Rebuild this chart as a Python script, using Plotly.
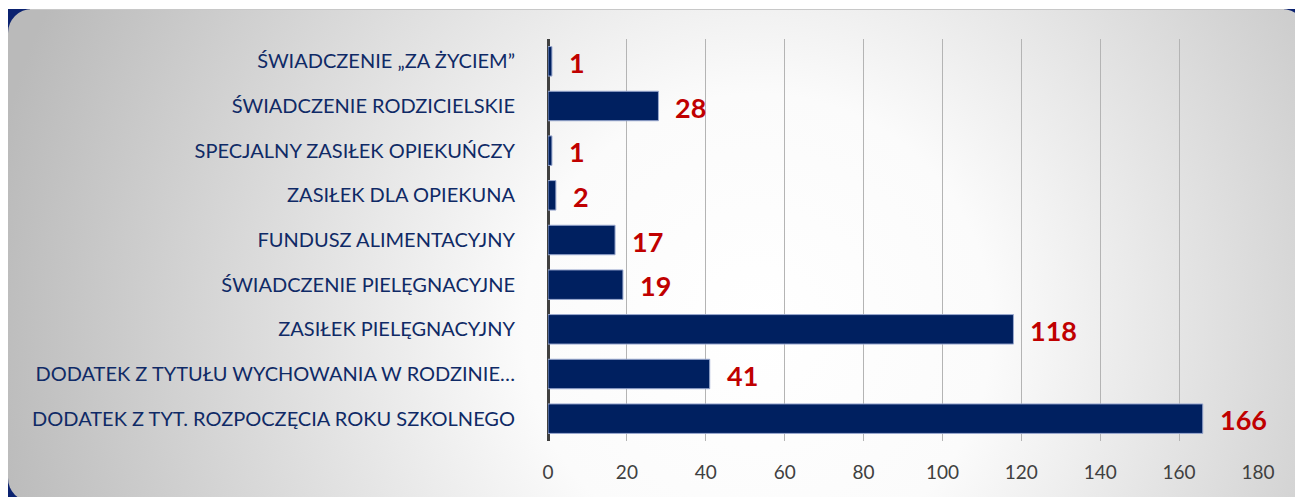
import plotly.graph_objects as go
import base64

categories = [
    "ŚWIADCZENIE „ZA ŻYCIEM”",
    "ŚWIADCZENIE RODZICIELSKIE",
    "SPECJALNY ZASIŁEK OPIEKUŃCZY",
    "ZASIŁEK DLA OPIEKUNA",
    "FUNDUSZ ALIMENTACYJNY",
    "ŚWIADCZENIE PIELĘGNACYJNE",
    "ZASIŁEK PIELĘGNACYJNY",
    "DODATEK Z TYTUŁU WYCHOWANIA W RODZINIE…",
    "DODATEK Z TYT. ROZPOCZĘCIA ROKU SZKOLNEGO",
]
values = [1, 28, 1, 2, 17, 19, 118, 41, 166]
x_ticks = [0, 20, 40, 60, 80, 100, 120, 140, 160, 180]

# page body has an 8px margin, so figure coordinates are shifted by 8px
W, H = 1303, 497
L, R, T, B = 540, 53, 31, 64

svg = f'''<svg xmlns="http://www.w3.org/2000/svg" width="{W}" height="{H}" viewBox="0 0 {W} {H}" preserveAspectRatio="none">
<defs>
<radialGradient id="g" gradientUnits="userSpaceOnUse" cx="750" cy="320" r="780">
<stop offset="0" stop-color="#ffffff"/>
<stop offset="0.3" stop-color="#fbfbfb"/>
<stop offset="1" stop-color="#bababa"/>
</radialGradient>
</defs>
<rect x="0" y="0" width="{W}" height="{H}" fill="#ffffff"/>
<rect x="0" y="1" width="{W}" height="{H}" fill="#0b2270"/>
<rect x="0" y="1" width="1298" height="493" rx="24" ry="24" fill="url(#g)"/>
<line x1="22" y1="1.5" x2="1276" y2="1.5" stroke="#c8c8c8" stroke-width="1"/>
</svg>'''
src = "data:image/svg+xml;base64," + base64.b64encode(svg.encode("utf-8")).decode()

pw = W - L - R
ph = H - T - B

fig = go.Figure()
fig.add_trace(go.Bar(
    x=values,
    y=categories,
    orientation="h",
    marker=dict(color="#002060", line=dict(color="#9aa9cf", width=1)),
    hoverinfo="skip",
))

for c, v in zip(categories, values):
    fig.add_annotation(
        x=v, y=c, xref="x", yref="y",
        text=str(v), showarrow=False,
        xanchor="left", yanchor="middle", xshift=15, yshift=-1,
        font=dict(family="Lato", size=27, color="#c00000", weight="bold"),
    )

fig.add_layout_image(dict(
    source=src, xref="paper", yref="paper",
    x=-L / pw, y=1 + T / ph, sizex=W / pw, sizey=H / ph,
    xanchor="left", yanchor="top", sizing="stretch", layer="below",
))

fig.update_layout(
    width=W, height=H,
    margin=dict(l=L, r=R, t=T, b=B),
    paper_bgcolor="#ffffff",
    plot_bgcolor="rgba(0,0,0,0)",
    bargap=0.34,
    showlegend=False,
    xaxis=dict(
        range=[0, 180], tickvals=x_ticks, showgrid=True,
        gridcolor="#b4b4b4", gridwidth=1,
        zeroline=True, zerolinecolor="#404040", zerolinewidth=3,
        showline=False, ticks="", ticklabelstandoff=18,
        tickfont=dict(family="Lato", size=19, color="#404040"),
        fixedrange=True,
    ),
    yaxis=dict(
        autorange="reversed", categoryorder="array", categoryarray=categories,
        showgrid=False, showline=False, ticks="", ticklabelstandoff=32,
        tickfont=dict(family="Lato", size=20, color="#0f2a66"),
        fixedrange=True,
    ),
)

fig.write_html("out.html")
